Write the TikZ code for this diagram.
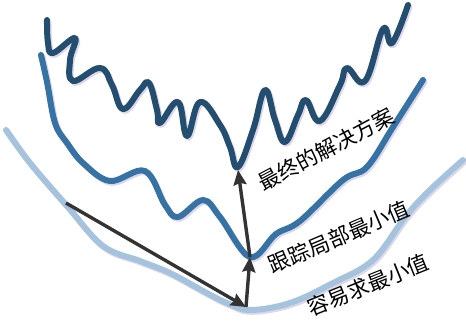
\documentclass[tikz,border=0pt]{standalone}
\usepackage{fontspec}
\newfontfamily\cjk{Noto Sans CJK SC}
\usetikzlibrary{arrows.meta}
\definecolor{darkc}{HTML}{234E70}
\definecolor{midc}{HTML}{3672A4}
\definecolor{lightc}{HTML}{A6C3DE}
\definecolor{shadowc}{HTML}{DCD7EA}
\definecolor{arrc}{HTML}{333333}
\tikzset{
  curve/.style={line width=6pt, line cap=round, line join=round},
  shadowline/.style={curve, draw=shadowc, shift={(1.5,1.8)}},
  arr/.style={draw=arrc, line width=3.4pt, -{Stealth[length=15pt,width=13pt,inset=2pt]}},
  lbl/.style={font=\cjk\fontsize{21.5}{21.5}\selectfont, text=black, inner sep=0pt}
}
\begin{document}
\begin{tikzpicture}[x=1pt,y=-1pt]
\useasboundingbox (0,0) rectangle (466,326);
% light curve
\def\lightpath{plot[smooth, tension=0.6] coordinates {(6,130) (30,163) (67,206) (103,246) (140,261) (170,273) (205,292) (227,303) (250,310) (290,303) (333,283) (373,260) (406,216) (430,190) (463,160)}}
\draw[shadowline] \lightpath;
\draw[curve, draw=lightc] \lightpath;
% middle curve
\def\midpath{plot[smooth, tension=0.6] coordinates {(41,55) (47,82) (55,123) (67,143) (83,163) (110,181) (145,171) (165,205) (178,217) (203,200) (220,217) (250,257) (276,234) (300,221) (343,180) (367,167) (393,127) (423,80)}}
\draw[shadowline] \midpath;
\draw[curve, draw=midc] \midpath;
% dark curve
\def\darkpath{plot[smooth, tension=0.7] coordinates {(47,20) (48,43) (53,53) (75,38) (70,60) (73,81) (100,68) (112,85) (123,109) (140,90) (149,83) (157,110) (160,123) (178,102) (187,136) (200,102) (220,125) (230,147) (238,167) (253,130) (265,90) (275,120) (285,142) (298,115) (306,100) (320,121) (340,85) (347,68) (365,81) (383,29) (392,43) (408,5)}}
\draw[shadowline] \darkpath;
\draw[curve, draw=darkc] \darkpath;
% arrows
\coordinate (s0) at (66,203);
\coordinate (m0) at (246,307);
\coordinate (m1) at (250,257);
\coordinate (m2) at (238,170);
\draw[arr] (s0) -- (m0);
\draw[arr] (m0) -- (m1);
\draw[arr] (m1) -- (m2);
% labels
\node[lbl, rotate=28] (t1) at (326,149) {最终的解决方案};
\node[lbl, rotate=23] (t2) at (339,237) {跟踪局部最小值};
\node[lbl, rotate=22] (t3) at (368,285) {容易求最小值};
\end{tikzpicture}
\end{document}
